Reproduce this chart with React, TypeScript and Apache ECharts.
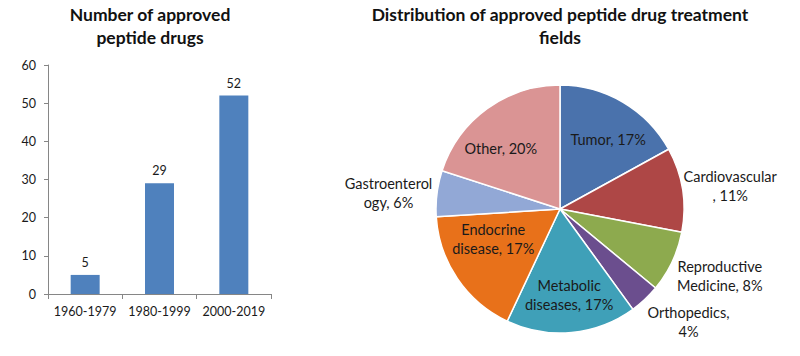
import React, { useEffect, useRef } from "react";
import * as echarts from "echarts";

const barCategories = ["1960-1979", "1980-1999", "2000-2019"];
const barValues = [5, 29, 52];
const yTicks = { min: 0, max: 60, interval: 10 };

const pieNames = [
  "Tumor",
  "Cardiovascular",
  "Reproductive Medicine",
  "Orthopedics",
  "Metabolic diseases",
  "Endocrine disease",
  "Gastroenterology",
  "Other",
];
const pieValues = [17, 11, 8, 4, 17, 17, 6, 20];
const pieLabelText = [
  "Tumor, {p}%",
  "Cardiovascular\n, {p}%",
  "Reproductive\nMedicine, {p}%",
  "Orthopedics,\n{p}%",
  "Metabolic\ndiseases, {p}%",
  "Endocrine\ndisease, {p}%",
  "Gastroenterol\nogy, {p}%",
  "Other, {p}%",
];
const pieColors = [
  "#4A72AC",
  "#AE4746",
  "#8DAA4E",
  "#6B4E8E",
  "#3FA0B8",
  "#E8711A",
  "#92A8D6",
  "#DA9494",
];
// label shifts from the default inside position (style only)
const pieLabelShift = [
  [15, -14],
  [106, -13],
  [101, 39],
  [84, 66],
  [3, 21],
  [-13, -7],
  [-107, -8],
  [-21, -8],
];

const FONT = "Lato, 'Open Sans', sans-serif";

export default function App() {
  const ref = useRef<HTMLDivElement>(null);
  useEffect(() => {
    const chart = echarts.init(ref.current!, null, { renderer: "svg" });
    const total = pieValues.reduce((a, b) => a + b, 0);
    const titleStyle = {
      fontFamily: FONT,
      fontSize: 17.5,
      fontWeight: "bold",
      color: "#111",
      lineHeight: 23,
    };
    chart.setOption({
      animation: false,
      backgroundColor: "#ffffff",
      textStyle: { fontFamily: FONT },
      title: [
        {
          text: "Number of approved\npeptide drugs",
          left: 150,
          top: 3,
          padding: 0,
          textAlign: "center",
          textStyle: titleStyle,
        },
        {
          text: "Distribution of approved peptide drug treatment\nfields",
          left: 560,
          top: 3,
          padding: 0,
          textAlign: "center",
          textStyle: titleStyle,
        },
      ],
      grid: { left: 48, top: 65, width: 223, height: 229, containLabel: false },
      xAxis: {
        type: "category",
        data: barCategories,
        axisLine: { lineStyle: { color: "#868686", width: 1 } },
        axisTick: { show: true, length: 5, lineStyle: { color: "#868686" } },
        axisLabel: {
          color: "#1a1a1a",
          fontSize: 12.5,
          margin: 11,
          interval: 0,
          fontFamily: FONT,
        },
      },
      yAxis: {
        type: "value",
        min: yTicks.min,
        max: yTicks.max,
        interval: yTicks.interval,
        axisLine: { show: true, lineStyle: { color: "#868686", width: 1 } },
        axisTick: { show: true, length: 4, lineStyle: { color: "#868686" } },
        splitLine: { show: false },
        axisLabel: { color: "#1a1a1a", fontSize: 12.5, margin: 12, fontFamily: FONT },
      },
      series: [
        {
          type: "bar",
          data: barValues,
          barWidth: "39%",
          itemStyle: { color: "#4F81BD" },
          label: {
            show: true,
            position: "top",
            distance: 6,
            color: "#1a1a1a",
            fontSize: 12.5,
            fontFamily: FONT,
          },
        },
        {
          type: "pie",
          center: [560, 209],
          radius: 124,
          startAngle: 90,
          clockwise: true,
          avoidLabelOverlap: false,
          data: pieNames.map((n, i) => ({
            name: n,
            value: pieValues[i],
            itemStyle: { color: pieColors[i] },
          })),
          itemStyle: { borderColor: "#ffffff", borderWidth: 1.5 },
          label: {
            show: true,
            position: "inside",
            color: "#1a1a1a",
            fontSize: 14.5,
            lineHeight: 19,
            fontFamily: FONT,
            align: "center",
            formatter: (p: any) =>
              pieLabelText[p.dataIndex].replace(
                "{p}",
                String(Math.round((pieValues[p.dataIndex] / total) * 100))
              ),
          },
          labelLine: { show: false },
          labelLayout: (p: any) => ({
            dx: pieLabelShift[p.dataIndex][0],
            dy: pieLabelShift[p.dataIndex][1],
          }),
          emphasis: { disabled: true },
        },
      ],
    });
    return () => chart.dispose();
  }, []);
  return <div ref={ref} style={{ width: 800, height: 356, position: "absolute", left: 0, top: 0 }} />;
}
